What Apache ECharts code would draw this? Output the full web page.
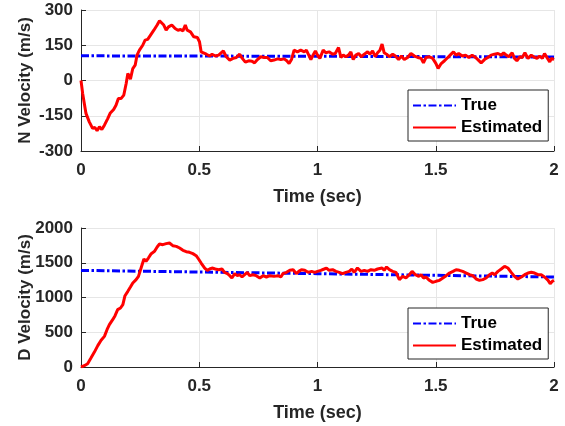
<!DOCTYPE html>
<html>
<head>
<meta charset="utf-8">
<script src="https://cdn.jsdelivr.net/npm/echarts@6/dist/echarts.min.js"></script>
<style>
  html, body { margin: 0; padding: 0; background: #fff; }
  #main { width: 565px; height: 426px; }
</style>
</head>
<body>
<div id="main"></div>
<script>
// 数据：值
var nTrueTime = [0, 1, 2];
var nTrueVal = [105, 103, 100];
var nEstTime = [0, 0.007, 0.021, 0.035, 0.049, 0.059, 0.068, 0.078, 0.088, 0.099, 0.113, 0.124, 0.138, 0.148, 0.158, 0.169, 0.181, 0.191, 0.198, 0.209, 0.219, 0.229, 0.237, 0.247, 0.261, 0.271, 0.282, 0.294, 0.308, 0.322, 0.332, 0.339, 0.35, 0.36, 0.37, 0.384, 0.398, 0.41, 0.421, 0.431, 0.441, 0.449, 0.463, 0.477, 0.492, 0.501, 0.508, 0.516, 0.53, 0.544, 0.554, 0.568, 0.582, 0.59, 0.602, 0.614, 0.629, 0.643, 0.657, 0.671, 0.682, 0.695, 0.709, 0.723, 0.734, 0.746, 0.76, 0.774, 0.788, 0.802, 0.816, 0.831, 0.845, 0.859, 0.87, 0.88, 0.89, 0.901, 0.915, 0.929, 0.944, 0.953, 0.963, 0.972, 0.981, 0.991, 1.0, 1.01, 1.024, 1.035, 1.049, 1.064, 1.075, 1.089, 1.099, 1.109, 1.12, 1.131, 1.141, 1.151, 1.162, 1.174, 1.185, 1.198, 1.212, 1.222, 1.233, 1.244, 1.254, 1.264, 1.273, 1.282, 1.292, 1.304, 1.318, 1.329, 1.343, 1.355, 1.367, 1.381, 1.395, 1.41, 1.424, 1.438, 1.448, 1.459, 1.473, 1.487, 1.501, 1.51, 1.523, 1.537, 1.551, 1.565, 1.575, 1.586, 1.597, 1.612, 1.626, 1.64, 1.654, 1.668, 1.678, 1.692, 1.706, 1.72, 1.734, 1.748, 1.763, 1.777, 1.787, 1.798, 1.809, 1.823, 1.833, 1.843, 1.855, 1.866, 1.877, 1.89, 1.904, 1.918, 1.928, 1.939, 1.951, 1.96, 1.97, 1.982, 1.989, 2.0];
var nEstVal = [0, -55, -140, -176, -204, -200, -214, -197, -209, -190, -162, -138, -123, -105, -77, -77, -62, -13, 30, 6, 51, 65, 108, 129, 150, 172, 175, 193, 214, 236, 254, 260, 236, 214, 228, 236, 221, 214, 217, 211, 236, 214, 207, 186, 183, 165, 122, 115, 112, 104, 112, 104, 108, 104, 126, 101, 87, 94, 98, 112, 94, 78, 84, 82, 75, 89, 101, 98, 98, 84, 87, 92, 89, 92, 84, 72, 89, 129, 122, 129, 122, 129, 108, 89, 108, 126, 108, 94, 129, 118, 122, 112, 115, 140, 98, 108, 101, 108, 122, 89, 108, 115, 101, 112, 122, 112, 126, 101, 118, 129, 155, 118, 112, 101, 112, 104, 89, 104, 89, 98, 115, 104, 98, 94, 75, 98, 101, 94, 72, 51, 72, 84, 98, 112, 122, 108, 115, 104, 108, 98, 108, 98, 89, 75, 89, 98, 108, 112, 115, 108, 118, 108, 101, 118, 94, 84, 101, 98, 118, 94, 108, 98, 94, 104, 94, 115, 98, 79, 94, 89];

var dTrueTime = [0, 1, 2];
var dTrueVal = [1390, 1343, 1295];
var dEstTime = [0, 0.014, 0.028, 0.042, 0.056, 0.071, 0.085, 0.099, 0.11, 0.12, 0.134, 0.144, 0.155, 0.167, 0.177, 0.186, 0.198, 0.209, 0.219, 0.233, 0.243, 0.254, 0.266, 0.275, 0.285, 0.297, 0.311, 0.322, 0.332, 0.346, 0.36, 0.374, 0.388, 0.403, 0.417, 0.431, 0.445, 0.459, 0.473, 0.487, 0.497, 0.508, 0.523, 0.534, 0.544, 0.554, 0.568, 0.582, 0.596, 0.607, 0.619, 0.629, 0.638, 0.65, 0.661, 0.671, 0.681, 0.692, 0.703, 0.713, 0.727, 0.741, 0.756, 0.77, 0.784, 0.798, 0.816, 0.833, 0.845, 0.854, 0.869, 0.883, 0.897, 0.911, 0.921, 0.932, 0.946, 0.96, 0.975, 0.989, 1.0, 1.014, 1.028, 1.038, 1.049, 1.064, 1.078, 1.092, 1.106, 1.12, 1.134, 1.145, 1.155, 1.169, 1.184, 1.198, 1.212, 1.226, 1.24, 1.254, 1.273, 1.282, 1.292, 1.304, 1.318, 1.332, 1.346, 1.36, 1.374, 1.388, 1.4, 1.414, 1.428, 1.438, 1.448, 1.459, 1.473, 1.487, 1.501, 1.516, 1.53, 1.544, 1.558, 1.573, 1.586, 1.6, 1.614, 1.629, 1.643, 1.657, 1.671, 1.685, 1.699, 1.713, 1.727, 1.739, 1.749, 1.763, 1.777, 1.791, 1.805, 1.819, 1.833, 1.847, 1.862, 1.876, 1.89, 1.904, 1.918, 1.932, 1.946, 1.96, 1.975, 1.984, 1.993, 2.0];
var dEstVal = [0, 19, 48, 129, 211, 307, 384, 441, 537, 609, 681, 739, 825, 849, 897, 1026, 1089, 1151, 1209, 1257, 1304, 1424, 1554, 1520, 1568, 1631, 1664, 1727, 1770, 1760, 1775, 1784, 1746, 1736, 1712, 1679, 1659, 1650, 1631, 1602, 1554, 1496, 1424, 1391, 1410, 1424, 1410, 1400, 1410, 1362, 1343, 1314, 1281, 1343, 1314, 1328, 1295, 1328, 1362, 1314, 1328, 1314, 1281, 1314, 1295, 1314, 1304, 1314, 1295, 1343, 1362, 1391, 1400, 1343, 1376, 1400, 1391, 1362, 1376, 1362, 1376, 1391, 1410, 1424, 1391, 1400, 1376, 1362, 1343, 1362, 1376, 1410, 1362, 1424, 1376, 1391, 1376, 1400, 1391, 1410, 1424, 1391, 1439, 1400, 1376, 1362, 1257, 1304, 1281, 1328, 1376, 1328, 1304, 1328, 1281, 1295, 1247, 1218, 1233, 1247, 1281, 1314, 1352, 1376, 1400, 1391, 1376, 1352, 1328, 1314, 1266, 1247, 1257, 1281, 1328, 1352, 1328, 1376, 1410, 1448, 1424, 1362, 1304, 1266, 1295, 1328, 1352, 1362, 1352, 1328, 1328, 1295, 1247, 1199, 1233, 1247];

var xTicks = [0, 0.5, 1, 1.5, 2];
var seriesNames = ['True', 'Estimated'];

function pairs(xs, ys) {
	var out = [];
	for (var i = 0; i < xs.length; i++) out.push([xs[i], ys[i]]);
	return out;
}

var textColor = '#262626';
var fontFam = '"Liberation Sans", Arial, sans-serif';
var dashDot = [8, 2.5, 2.5, 2.5];

function xAxisCfg(gridIndex) {
	return {
		type: 'value', gridIndex: gridIndex, min: 0, max: 2, interval: 0.5,
		name: 'Time (sec)', nameLocation: 'middle', nameGap: 37, nameMoveOverlap: false,
		nameTextStyle: { color: textColor, fontSize: 18, fontWeight: 'bold', fontFamily: fontFam },
		axisLine: { show: true, onZero: false, lineStyle: { color: textColor, width: 1 } },
		axisTick: { show: true, inside: true, length: 5, lineStyle: { color: textColor } },
		axisLabel: {
			color: textColor, fontSize: 17, fontWeight: 'bold', fontFamily: fontFam, margin: 11,
			formatter: function (v) { return xTicks.indexOf(v) >= 0 ? String(v) : ''; }
		},
		splitLine: { show: true, lineStyle: { color: '#e6e6e6', width: 1 } }
	};
}

function yAxisCfg(gridIndex, name, min, max, step) {
	return {
		type: 'value', gridIndex: gridIndex, min: min, max: max, interval: step,
		name: name, nameLocation: 'middle', nameGap: 47, nameMoveOverlap: false,
		nameTextStyle: { color: textColor, fontSize: 17, fontWeight: 'bold', fontFamily: fontFam },
		axisLine: { show: true, onZero: false, lineStyle: { color: textColor, width: 1 } },
		axisTick: { show: true, inside: true, length: 5, lineStyle: { color: textColor } },
		axisLabel: {
			color: textColor, fontSize: 17, fontWeight: 'bold', fontFamily: fontFam, margin: 8,
			formatter: function (v) { return String(v); }
		},
		splitLine: { show: true, lineStyle: { color: '#e6e6e6', width: 1 } }
	};
}

function legendCfg(top) {
	return {
		data: seriesNames, orient: 'vertical', left: 408, top: top,
		padding: [7, 6, 5, 4], itemWidth: 43, itemHeight: 14, itemGap: 5,
		backgroundColor: '#ffffff', borderColor: textColor, borderWidth: 1, borderRadius: 0,
		selectedMode: false,
		itemStyle: { opacity: 0 },
		textStyle: { color: '#000', fontSize: 17, fontWeight: 'bold', fontFamily: fontFam }
	};
}

var myChart = echarts.init(document.getElementById('main'));
var option = {
	animation: false,
	backgroundColor: '#ffffff',
	grid: [
		{ left: 81, top: 10, width: 473, height: 141, outerBoundsMode: 'none' },
		{ left: 81, top: 228, width: 473, height: 139, outerBoundsMode: 'none' }
	],
	xAxis: [xAxisCfg(0), xAxisCfg(1)],
	yAxis: [
		yAxisCfg(0, 'N Velocity (m/s)', -300, 300, 150),
		yAxisCfg(1, 'D Velocity (m/s)', 0, 2000, 500)
	],
	legend: [legendCfg(90), legendCfg(308)],
	series: [
		{
			name: 'True', type: 'line', xAxisIndex: 0, yAxisIndex: 0,
			data: pairs(nTrueTime, nTrueVal), symbol: 'none', z: 2,
			lineStyle: { color: '#0000ff', width: 3, type: dashDot }, itemStyle: { color: '#0000ff' }
		},
		{
			name: 'Estimated', type: 'line', xAxisIndex: 0, yAxisIndex: 0,
			data: pairs(nEstTime, nEstVal), symbol: 'none', z: 3,
			lineStyle: { color: '#ff0000', width: 3 }, itemStyle: { color: '#ff0000' }
		},
		{
			name: 'True', type: 'line', xAxisIndex: 1, yAxisIndex: 1,
			data: pairs(dTrueTime, dTrueVal), symbol: 'none', z: 2,
			lineStyle: { color: '#0000ff', width: 3, type: dashDot }, itemStyle: { color: '#0000ff' }
		},
		{
			name: 'Estimated', type: 'line', xAxisIndex: 1, yAxisIndex: 1,
			data: pairs(dEstTime, dEstVal), symbol: 'none', z: 3,
			lineStyle: { color: '#ff0000', width: 3 }, itemStyle: { color: '#ff0000' }
		}
	]
};
myChart.setOption(option);
</script>
</body>
</html>
